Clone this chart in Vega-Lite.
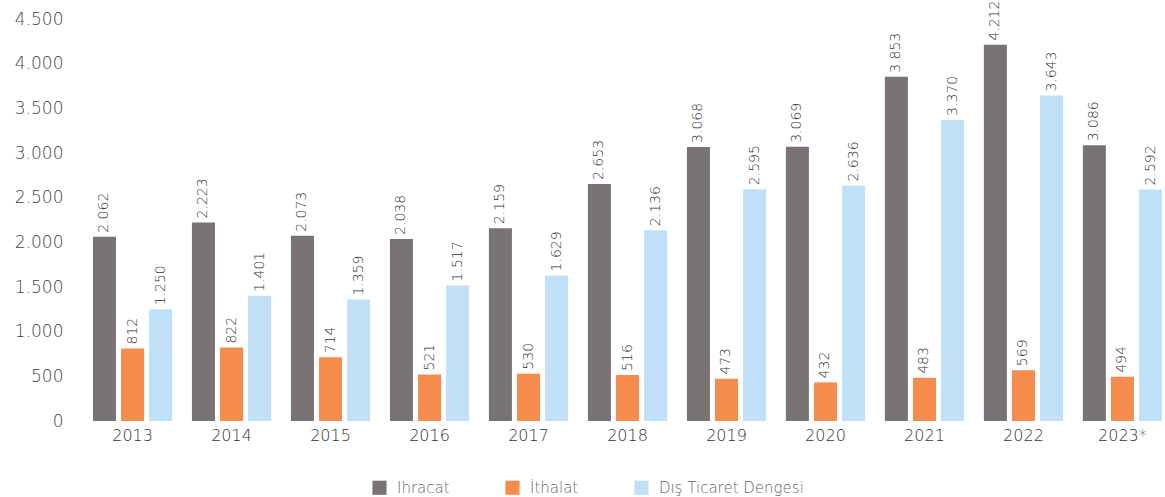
{
  "$schema": "https://vega.github.io/schema/vega-lite/v6.json",
  "width": 1077,
  "height": 402,
  "autosize": {"type": "none"},
  "padding": {"left": 89, "right": 0, "top": 19, "bottom": 76},
  "background": "white",
  "config": {
    "locale": {"number": {"decimal": ",", "thousands": ".", "grouping": [3], "currency": ["", ""]}},
    "font": "DejaVu Sans",
    "view": {"stroke": null}
  },
  "data": {
    "values": [
      {"yil": "2013", "seri": "Ihracat", "deger": 2062},
      {"yil": "2013", "seri": "İthalat", "deger": 812},
      {"yil": "2013", "seri": "Dış Ticaret Dengesi", "deger": 1250},
      {"yil": "2014", "seri": "Ihracat", "deger": 2223},
      {"yil": "2014", "seri": "İthalat", "deger": 822},
      {"yil": "2014", "seri": "Dış Ticaret Dengesi", "deger": 1401},
      {"yil": "2015", "seri": "Ihracat", "deger": 2073},
      {"yil": "2015", "seri": "İthalat", "deger": 714},
      {"yil": "2015", "seri": "Dış Ticaret Dengesi", "deger": 1359},
      {"yil": "2016", "seri": "Ihracat", "deger": 2038},
      {"yil": "2016", "seri": "İthalat", "deger": 521},
      {"yil": "2016", "seri": "Dış Ticaret Dengesi", "deger": 1517},
      {"yil": "2017", "seri": "Ihracat", "deger": 2159},
      {"yil": "2017", "seri": "İthalat", "deger": 530},
      {"yil": "2017", "seri": "Dış Ticaret Dengesi", "deger": 1629},
      {"yil": "2018", "seri": "Ihracat", "deger": 2653},
      {"yil": "2018", "seri": "İthalat", "deger": 516},
      {"yil": "2018", "seri": "Dış Ticaret Dengesi", "deger": 2136},
      {"yil": "2019", "seri": "Ihracat", "deger": 3068},
      {"yil": "2019", "seri": "İthalat", "deger": 473},
      {"yil": "2019", "seri": "Dış Ticaret Dengesi", "deger": 2595},
      {"yil": "2020", "seri": "Ihracat", "deger": 3069},
      {"yil": "2020", "seri": "İthalat", "deger": 432},
      {"yil": "2020", "seri": "Dış Ticaret Dengesi", "deger": 2636},
      {"yil": "2021", "seri": "Ihracat", "deger": 3853},
      {"yil": "2021", "seri": "İthalat", "deger": 483},
      {"yil": "2021", "seri": "Dış Ticaret Dengesi", "deger": 3370},
      {"yil": "2022", "seri": "Ihracat", "deger": 4212},
      {"yil": "2022", "seri": "İthalat", "deger": 569},
      {"yil": "2022", "seri": "Dış Ticaret Dengesi", "deger": 3643},
      {"yil": "2023*", "seri": "Ihracat", "deger": 3086},
      {"yil": "2023*", "seri": "İthalat", "deger": 494},
      {"yil": "2023*", "seri": "Dış Ticaret Dengesi", "deger": 2592}
    ]
  },
  "encoding": {
    "x": {
      "field": "yil", "type": "nominal", "sort": null, "title": null,
      "scale": {"paddingInner": 0.2, "paddingOuter": 0.04},
      "axis": {"labelAngle": 0, "domain": false, "ticks": false, "labelFontSize": 16, "labelFontWeight": 200, "labelColor": "#333", "labelPadding": 6}
    },
    "xOffset": {"field": "seri", "type": "nominal", "sort": ["Ihracat", "İthalat", "Dış Ticaret Dengesi"], "scale": {"paddingInner": 0.18}},
    "y": {
      "field": "deger", "type": "quantitative", "title": null,
      "scale": {"domain": [0, 4500]},
      "axis": {"values": [0, 500, 1000, 1500, 2000, 2500, 3000, 3500, 4000, 4500], "format": ",d", "grid": false, "domain": false, "ticks": false, "labelFontSize": 17, "labelFontWeight": 200, "labelColor": "#444", "labelPadding": 26}
    }
  },
  "layer": [
    {
      "mark": {"type": "bar"},
      "encoding": {
        "color": {
          "field": "seri", "type": "nominal", "title": null,
          "sort": ["Ihracat", "İthalat", "Dış Ticaret Dengesi"],
          "scale": {"domain": ["Ihracat", "İthalat", "Dış Ticaret Dengesi"], "range": ["#7a7374", "#f58b4c", "#bfe0f7"]},
          "legend": {"orient": "none", "legendX": 283, "legendY": 461, "direction": "horizontal", "symbolType": "square", "symbolSize": 200, "symbolStrokeWidth": 0, "labelFontSize": 15, "labelFontWeight": 200, "labelColor": "#666", "labelOffset": 10, "columnPadding": 55}
        }
      }
    },
    {
      "mark": {"type": "text", "angle": -90, "align": "left", "baseline": "middle", "dx": 4, "fontSize": 14, "fontWeight": 200, "color": "#333"},
      "encoding": {
        "text": {"field": "deger", "type": "quantitative", "format": ",d"}
      }
    }
  ]
}
